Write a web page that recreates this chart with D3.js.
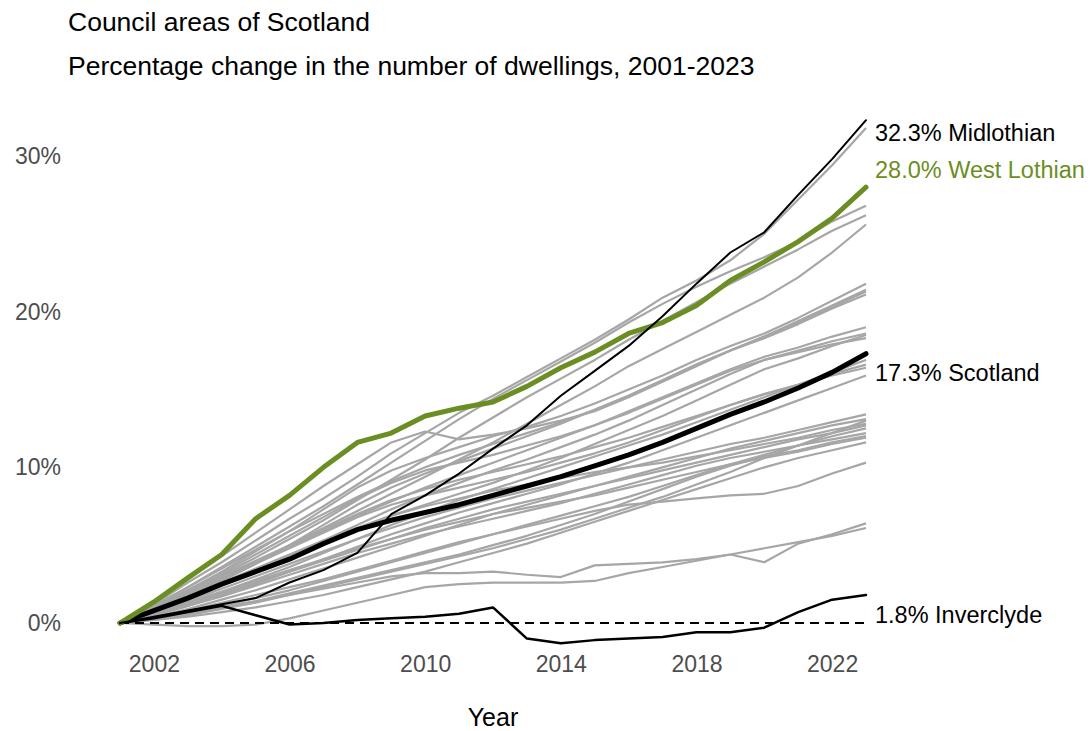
<!DOCTYPE html>
<html>
<head>
<meta charset="utf-8">
<script src="https://cdn.jsdelivr.net/npm/d3@7"></script>
<style>
  html, body { margin: 0; padding: 0; background: #fff; }
  svg { display: block; font-family: "Liberation Sans", Arial, Helvetica, sans-serif; }
</style>
</head>
<body>
<svg id="chart" width="1092" height="731"></svg>
<script>
// ---------------- DATA ----------------
const years = [2001, 2002, 2003, 2004, 2005, 2006, 2007, 2008, 2009, 2010, 2011, 2012,
               2013, 2014, 2015, 2016, 2017, 2018, 2019, 2020, 2021, 2022, 2023];

const xTicks = [2002, 2006, 2010, 2014, 2018, 2022];
const yTicks = [0, 10, 20, 30];

// Highlighted series (% change since 2001)
const midlothian  = [0, 0.4, 0.8, 1.2, 1.6, 2.6, 3.4, 4.5, 7.0, 8.2, 9.6, 11.2, 12.7, 14.6, 16.2, 17.8, 19.7, 21.8, 23.8, 25.1, 27.5, 29.8, 32.3];
const westLothian = [0, 1.35, 2.9, 4.4, 6.7, 8.2, 10.0, 11.6, 12.2, 13.3, 13.8, 14.2, 15.2, 16.4, 17.4, 18.6, 19.3, 20.4, 22.0, 23.2, 24.5, 26.0, 28.0];
const scotland    = [0, 0.8, 1.6, 2.5, 3.3, 4.1, 5.1, 6.0, 6.6, 7.1, 7.6, 8.2, 8.8, 9.4, 10.1, 10.8, 11.6, 12.5, 13.4, 14.2, 15.1, 16.1, 17.3];
const inverclyde  = [0, 0.3, 0.7, 1.1, 0.5, -0.1, 0.0, 0.2, 0.3, 0.4, 0.6, 1.0, -1.0, -1.3, -1.1, -1.0, -0.9, -0.6, -0.6, -0.3, 0.7, 1.5, 1.8];

// Other council areas (grey)
const otherCouncils = [
  [0, 1.2, 2.6, 3.9, 5.3, 6.7, 8.0, 9.4, 10.9, 12.2, 13.5, 14.6, 15.8, 17.0, 18.2, 19.5, 20.9, 22.0, 23.3, 25.0, 27.2, 29.4, 31.8],
  [0, 1.1, 2.3, 3.6, 4.9, 6.2, 7.5, 8.9, 10.3, 11.7, 13.1, 14.4, 15.6, 16.8, 18.0, 19.3, 20.5, 21.6, 22.6, 23.5, 24.5, 25.8, 26.8],
  [0, 1.0, 2.0, 3.1, 4.2, 5.4, 6.6, 7.9, 9.2, 10.5, 11.9, 13.2, 14.5, 15.7, 16.9, 18.2, 19.4, 20.6, 21.8, 22.9, 24.0, 25.2, 26.2],
  [0, 0.9, 1.9, 2.9, 3.9, 5.0, 6.1, 7.2, 8.3, 9.4, 10.5, 11.6, 12.8, 14.0, 15.2, 16.5, 17.6, 18.7, 19.8, 20.9, 22.2, 23.8, 25.6],
  [0, 1.0, 2.1, 3.3, 4.6, 5.9, 7.3, 8.7, 9.8, 10.6, 11.3, 12.0, 12.6, 13.3, 14.1, 15.0, 15.9, 16.9, 17.8, 18.6, 19.6, 20.7, 21.8],
  [0, 0.8, 1.7, 2.7, 3.8, 5.0, 6.3, 7.6, 8.7, 9.6, 10.4, 11.2, 12.0, 12.8, 13.7, 14.6, 15.6, 16.6, 17.5, 18.4, 19.4, 20.4, 21.4],
  [0, 1.3, 2.8, 4.3, 5.8, 7.3, 8.8, 10.2, 11.6, 12.3, 11.8, 12.1, 12.5, 13.0, 13.6, 14.5, 15.5, 16.5, 17.5, 18.3, 19.2, 20.2, 21.1],
  [0, 0.9, 1.9, 2.9, 3.9, 4.9, 5.9, 6.9, 7.8, 8.7, 9.5, 10.3, 11.1, 11.9, 12.7, 13.6, 14.5, 15.4, 16.3, 17.1, 17.7, 18.4, 19.0],
  [0, 0.7, 1.5, 2.4, 3.3, 4.3, 5.3, 6.3, 7.3, 8.2, 9.0, 9.8, 10.5, 11.3, 12.1, 13.0, 14.0, 15.0, 16.0, 16.9, 17.5, 18.1, 18.6],
  [0, 1.0, 2.1, 3.2, 4.4, 5.6, 6.8, 8.0, 9.0, 9.8, 10.3, 10.8, 11.4, 12.0, 12.7, 13.5, 14.4, 15.3, 16.2, 16.9, 17.4, 17.9, 18.3],
  [0, 0.6, 1.3, 2.0, 2.8, 3.6, 4.5, 5.4, 6.3, 7.1, 7.9, 8.6, 9.3, 10.0, 10.7, 11.4, 12.1, 12.9, 13.7, 14.5, 15.3, 16.1, 16.9],
  [0, 0.9, 1.8, 2.8, 3.8, 4.8, 5.8, 6.8, 7.6, 8.2, 8.7, 9.2, 9.7, 10.3, 10.9, 11.6, 12.4, 13.2, 14.0, 14.7, 15.3, 15.9, 16.4],
  [0, 0.5, 1.1, 1.8, 2.5, 3.3, 4.1, 4.9, 5.7, 6.4, 7.1, 7.7, 8.3, 8.9, 9.6, 10.3, 11.1, 11.9, 12.7, 13.5, 14.3, 15.1, 15.9],
  [0, 0.7, 1.4, 2.2, 3.0, 3.8, 4.6, 5.4, 6.1, 6.8, 7.4, 8.0, 8.5, 9.0, 9.5, 10.0, 10.5, 11.0, 11.5, 11.9, 12.4, 12.9, 13.4],
  [0, 0.4, 0.9, 1.5, 2.1, 2.8, 3.5, 4.2, 4.9, 5.6, 6.3, 7.0, 7.6, 8.2, 8.8, 9.4, 10.0, 10.6, 11.2, 11.7, 12.2, 12.7, 13.1],
  [0, 0.8, 1.7, 2.6, 3.5, 4.4, 5.3, 6.1, 6.9, 7.5, 8.0, 8.5, 8.9, 9.3, 9.7, 10.0, 10.3, 10.7, 11.1, 11.5, 11.9, 12.4, 12.8],
  [0, 0.3, 0.7, 1.1, 1.6, 2.1, 2.7, 3.3, 3.9, 4.5, 5.1, 5.7, 6.3, 6.9, 7.5, 8.1, 8.8, 9.5, 10.2, 10.8, 11.4, 12.0, 12.5],
  [0, 0.5, 1.1, 1.7, 2.4, 3.1, 3.8, 4.5, 5.1, 5.7, 6.2, 6.7, 7.2, 7.7, 8.3, 8.9, 9.5, 10.1, 10.6, 11.0, 11.4, 11.8, 12.2],
  [0, 0.6, 1.3, 2.0, 2.7, 3.4, 4.1, 4.8, 5.4, 6.0, 6.5, 7.0, 7.4, 7.8, 8.2, 8.7, 9.2, 9.7, 10.2, 10.6, 11.0, 11.5, 11.9],
  [0, 0.2, 0.4, 0.7, 1.0, 1.4, 1.8, 2.3, 2.8, 3.3, 3.9, 4.5, 5.1, 5.8, 6.5, 7.2, 7.9, 8.6, 9.3, 10.0, 10.6, 11.1, 11.6],
  [0, 0.4, 0.8, 1.3, 1.8, 2.3, 2.8, 3.4, 4.0, 4.6, 5.2, 5.7, 6.2, 6.7, 7.2, 7.6, 7.8, 8.0, 8.2, 8.3, 8.8, 9.6, 10.3],
  [0, 0.3, 0.6, 1.0, 1.4, 1.8, 2.2, 2.6, 3.0, 3.2, 3.2, 3.3, 3.1, 2.95, 3.7, 3.8, 3.9, 4.1, 4.4, 3.9, 5.1, 5.7, 6.4],
  [0, -0.1, -0.2, -0.2, -0.1, 0.3, 0.8, 1.3, 1.8, 2.3, 2.5, 2.6, 2.6, 2.6, 2.7, 3.2, 3.6, 4.0, 4.4, 4.8, 5.2, 5.6, 6.1],
  [0, 1.1, 2.3, 3.5, 4.7, 5.9, 7.0, 8.1, 9.1, 10.0, 10.8, 11.5, 12.2, 12.9, 13.7, 14.6, 15.6, 16.6, 17.5, 18.4, 19.3, 20.3, 21.3],
  [0, 0.8, 1.6, 2.5, 3.4, 4.3, 5.2, 6.1, 6.9, 7.6, 8.3, 9.0, 9.8, 10.6, 11.5, 12.4, 13.3, 14.3, 15.3, 16.3, 17.0, 17.8, 18.5],
  [0, 0.6, 1.2, 1.9, 2.6, 3.3, 4.0, 4.7, 5.4, 6.1, 6.7, 7.3, 7.8, 8.3, 8.8, 9.3, 9.8, 10.3, 10.8, 11.3, 11.8, 12.2, 12.7],
  [0, 0.3, 0.6, 1.0, 1.4, 1.9, 2.4, 2.9, 3.4, 3.9, 4.4, 5.0, 5.6, 6.3, 7.0, 7.8, 8.6, 9.4, 10.1, 10.7, 11.1, 11.6, 12.0],
  [0, 1.0, 2.0, 3.0, 4.0, 5.0, 6.0, 7.0, 7.9, 8.6, 9.2, 9.7, 10.2, 10.7, 11.3, 11.9, 12.6, 13.3, 14.0, 14.7, 15.3, 16.0, 16.6],
  [0, 0.2, 0.5, 0.9, 1.3, 1.8, 2.3, 2.8, 3.3, 3.8, 4.3, 4.8, 5.4, 6.0, 6.7, 7.4, 8.1, 8.9, 9.7, 10.6, 11.4, 12.2, 13.0]
];

const titleText = "Council areas of Scotland";
const subtitleText = "Percentage change in the number of dwellings, 2001-2023";
const xAxisTitle = "Year";

// ---------------- CHART ----------------
const svg = d3.select("#chart");
const GREEN = "#6b8e23";
const GREY = "#a6a6a6";

const x = d3.scaleLinear().domain([2001, 2023]).range([120, 866]);
const y = d3.scaleLinear().domain([0, 30]).range([623, 156]);

const line = d3.line()
  .x((d, i) => x(years[i]))
  .y(d => y(d));

// titles
svg.append("text").attr("x", 68).attr("y", 31)
  .attr("font-size", 26.5).attr("fill", "#000").text(titleText);
svg.append("text").attr("x", 68).attr("y", 75)
  .attr("font-size", 26.5).attr("fill", "#000").text(subtitleText);

// axes
const yAxis = d3.axisLeft(y).tickValues(yTicks).tickSize(0).tickPadding(0)
  .tickFormat(d => d + "%");
const gy = svg.append("g").attr("transform", "translate(61,0)").call(yAxis);
gy.select(".domain").remove();
gy.selectAll("text").attr("font-size", 23).attr("fill", "#4d4d4d")
  .attr("font-family", "Liberation Sans, Arial, sans-serif");

const xAxis = d3.axisBottom(x).tickValues(xTicks).tickSize(0).tickPadding(0)
  .tickFormat(d3.format("d"));
const gx = svg.append("g").attr("transform", "translate(0,656)").call(xAxis);
gx.select(".domain").remove();
gx.selectAll("text").attr("font-size", 23).attr("fill", "#4d4d4d")
  .attr("font-family", "Liberation Sans, Arial, sans-serif");

svg.append("text").attr("x", (x.range()[0] + x.range()[1]) / 2).attr("y", 726)
  .attr("text-anchor", "middle").attr("font-size", 25).attr("fill", "#000")
  .text(xAxisTitle);

// grey lines
svg.append("g").selectAll("path").data(otherCouncils).join("path")
  .attr("d", line).attr("fill", "none").attr("stroke", GREY)
  .attr("stroke-width", 2.2).attr("stroke-linejoin", "round");

// zero reference line
svg.append("line")
  .attr("x1", x(2001)).attr("x2", x(2023)).attr("y1", y(0)).attr("y2", y(0))
  .attr("stroke", "#000").attr("stroke-width", 2).attr("stroke-dasharray", "9,6");

// highlighted
const highlights = [
  { values: scotland,    color: "#000", width: 5,   label: "Scotland",     dy: 19 },
  { values: inverclyde,  color: "#000", width: 2.5, label: "Inverclyde",   dy: 20 },
  { values: westLothian, color: GREEN,  width: 5,   label: "West Lothian", dy: -17 },
  { values: midlothian,  color: "#000", width: 2,   label: "Midlothian",   dy: 13 }
];

svg.append("g").selectAll("path").data(highlights).join("path")
  .attr("d", d => line(d.values)).attr("fill", "none")
  .attr("stroke", d => d.color).attr("stroke-width", d => d.width)
  .attr("stroke-linejoin", "round").attr("stroke-linecap", "round");

svg.append("g").selectAll("text").data(highlights).join("text")
  .attr("x", 875)
  .attr("y", d => y(d.values[d.values.length - 1]) + d.dy)
  .attr("dominant-baseline", "central")
  .attr("font-size", 23.5)
  .attr("fill", d => d.color)
  .text(d => d.values[d.values.length - 1].toFixed(1) + "% " + d.label);
</script>
</body>
</html>
